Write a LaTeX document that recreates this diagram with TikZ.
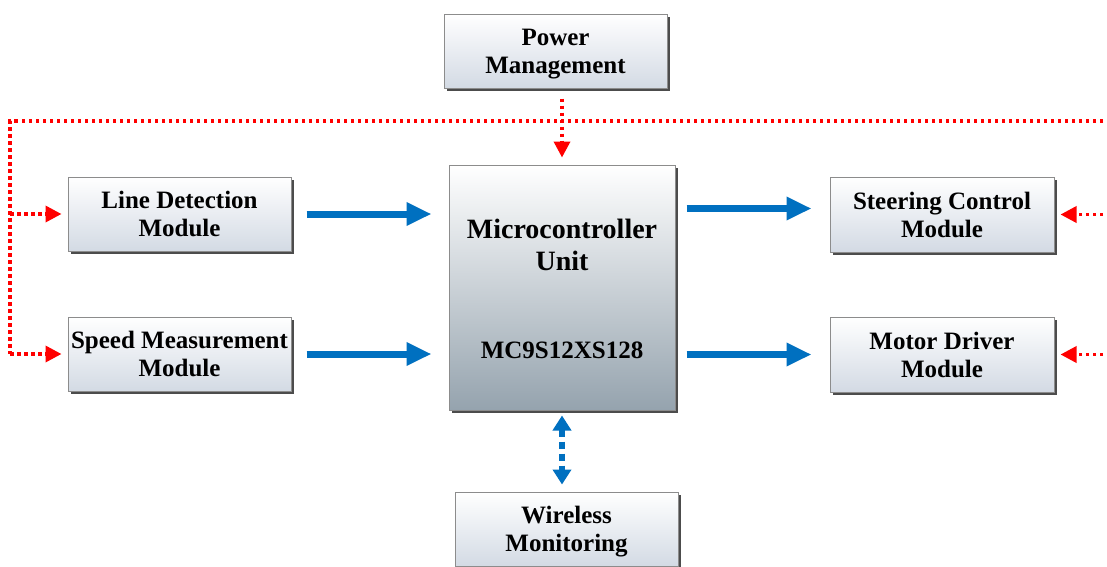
\documentclass[tikz,border=0pt]{standalone}
\usepackage{fontspec}
\setmainfont{Liberation Serif}
\usetikzlibrary{arrows.meta,positioning,shadows}

\definecolor{blockbot}{HTML}{D3DAE4}
\definecolor{mcubot}{HTML}{95A3AE}
\definecolor{flowblue}{HTML}{0070C0}

\begin{document}
\begin{tikzpicture}[
  x=1pt, y=-1pt,
  block/.style={rectangle, draw=black!45, line width=1pt, top color=white, bottom color=blockbot,
    minimum width=223pt, minimum height=74pt, inner sep=0pt, align=center, text depth=0pt,
    font=\fontsize{25}{28}\selectfont\bfseries,
    drop shadow={shadow xshift=3pt, shadow yshift=-3pt, fill=black!70, opacity=1}},
  mcublock/.style={block, bottom color=mcubot, minimum width=226pt, minimum height=245pt},
  dataflow/.style={draw=flowblue, line width=7pt, -{Triangle[length=25pt,width=22pt]}},
  powerline/.style={draw=red, line width=3.5pt, dash pattern=on 3.5pt off 3.5pt},
  powerarrow/.style={powerline, -{Triangle[length=16pt,width=16pt]}},
  radiolink/.style={draw=flowblue, line width=6pt, dash pattern=on 7pt off 5pt,
    {Triangle[length=15pt,width=18pt]}-{Triangle[length=15pt,width=18pt]}}
]
\useasboundingbox[fill=white] (0,0) rectangle (1107,566);

% blocks
\node[block] (pwr) at (555.5,51) {Power\\Management};
\node[block] (line) at (179.5,214) {Line Detection\\Module};
\node[block] (speed) at (179.5,354) {Speed Measurement\\Module};
\node[mcublock] (mcu) at (562,287.5) {};
\node[font=\fontsize{28}{32}\selectfont\bfseries, align=center] (mcuname) at (562,245) {Microcontroller\\Unit};
\node[font=\fontsize{25}{28}\selectfont\bfseries] (mcupart) at (562,350) {MC9S12XS128};
\node[block, minimum width=224pt, minimum height=75pt] (steer) at (942,214.5) {Steering Control\\Module};
\node[block, minimum width=224pt, minimum height=75pt] (motor) at (942,354.5) {Motor Driver\\Module};
\node[block] (wless) at (566.5,529) {Wireless\\Monitoring};

% power bus
\coordinate (busL) at (10,121);
\coordinate (busR) at (1110,121);
\draw[powerline] (busR) -- (busL) -- (busL |- speed.west);
\draw[powerarrow, shorten >=6pt] (busL |- line.west) -- (line.west);
\draw[powerarrow, shorten >=6pt] (busL |- speed.west) -- (speed.west);
\draw[powerarrow, shorten >=6pt] (busR |- steer.east) -- (steer.east);
\draw[powerarrow, shorten >=6pt] (busR |- motor.east) -- (motor.east);
\draw[powerarrow, shorten <=10pt, shorten >=7pt] (mcu.north |- pwr.south) -- (mcu.north);

% signal flow
\draw[dataflow, shorten <=15pt, shorten >=17pt] (line.east) -- (line.east -| mcu.west);
\draw[dataflow, shorten <=15pt, shorten >=17pt] (speed.east) -- (speed.east -| mcu.west);
\draw[dataflow, shorten <=11pt, shorten >=18pt] ([yshift=6pt]mcu.east |- steer.west) -- ([yshift=6pt]steer.west);
\draw[dataflow, shorten <=11pt, shorten >=18pt] (mcu.east |- motor.west) -- (motor.west);
\draw[radiolink, shorten <=5pt, shorten >=7pt] (mcu.south) -- (mcu.south |- wless.north);
\end{tikzpicture}
\end{document}
